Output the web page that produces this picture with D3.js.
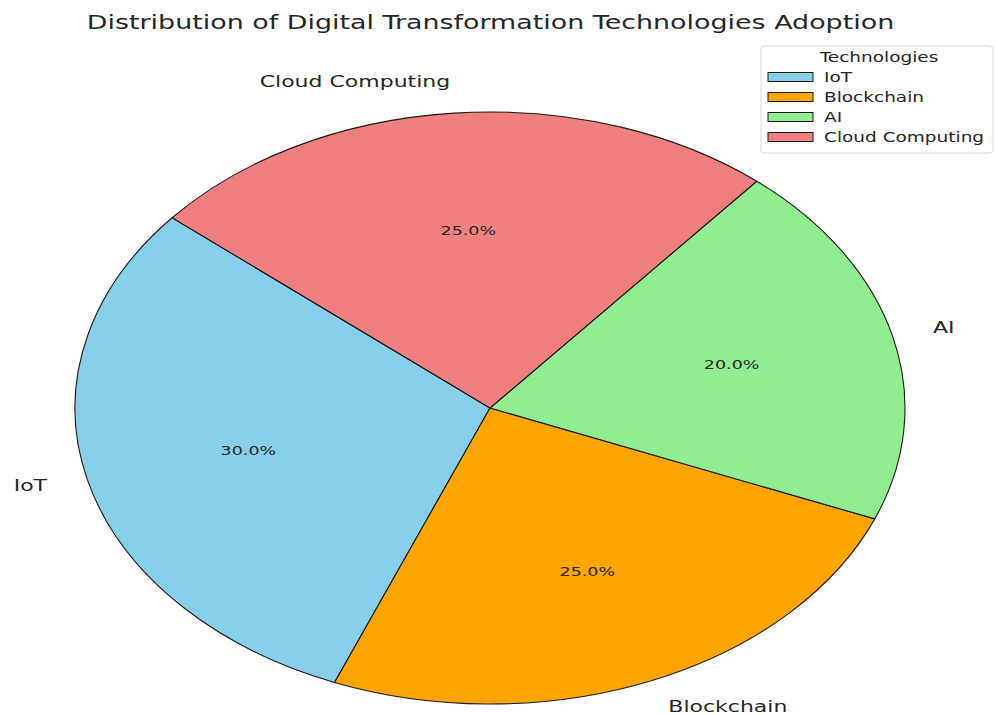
<!DOCTYPE html>
<html>
<head>
<meta charset="utf-8">
<script src="https://cdn.jsdelivr.net/npm/d3@7"></script>
<style>
  html, body { margin: 0; padding: 0; background: #fff; }
  svg { display: block; font-family: "DejaVu Sans", sans-serif; }
</style>
</head>
<body>
<svg id="chart" width="998" height="715"></svg>
<script>
const categories = ["IoT", "Blockchain", "AI", "Cloud Computing"];
const values = [30, 25, 20, 25];
const colors = ["#87CEEB", "#FFA500", "#90EE90", "#F08080"];
const titleText = "Distribution of Digital Transformation Technologies Adoption";
const legendTitle = "Technologies";

const W = 998, H = 715;
const cx = 490, cy = 408, rx = 415, ry = 296;
const k = ry / rx; // vertical squash of the picture
const svg = d3.select("#chart");

const data = categories.map((c, i) => ({ name: c, value: values[i], color: colors[i] }));

// matplotlib startangle=140, counterclockwise -> d3 angles
const start = (90 - 140) * Math.PI / 180;
const pie = d3.pie().value(d => d.value).sort(null)
  .startAngle(start).endAngle(start - 2 * Math.PI);
const arcs = pie(data);
const arc = d3.arc().innerRadius(0).outerRadius(rx);

const g = svg.append("g").attr("transform", `translate(${cx},${cy}) scale(1,${k})`);
g.selectAll("path").data(arcs).join("path")
  .attr("d", arc)
  .attr("fill", d => d.data.color)
  .attr("stroke", "#1a1a1a")
  .attr("stroke-width", 1.1)
  .attr("vector-effect", "non-scaling-stroke");

function squashText(x, y, txt, size, anchor, fill) {
  return svg.append("text")
    .attr("transform", `translate(${x},${y}) scale(1,${k})`)
    .attr("text-anchor", anchor)
    .attr("dominant-baseline", "central")
    .style("font-size", size + "px")
    .attr("fill", fill || "#262626")
    .text(txt);
}

// labels and percentages
arcs.forEach(d => {
  const mid = (d.startAngle + d.endAngle) / 2;
  const sx = Math.sin(mid), sy = -Math.cos(mid);
  const lx = cx + 1.1 * rx * sx, ly = cy + 1.1 * ry * sy - 1.5;
  squashText(lx, ly, d.data.name, 22, sx < 0 ? "end" : "start");
  const px = cx + 0.6 * rx * sx, py = cy + 0.6 * ry * sy;
  const pct = (d.data.value / d3.sum(values) * 100).toFixed(1) + "%";
  squashText(px, py, pct, 17.5, "middle");
});

// title
squashText(490.5, 22, titleText, 26.9, "middle", "#262626");

// legend
const lg = { x: 761, y: 46, w: 232, h: 107 };
svg.append("rect")
  .attr("x", lg.x).attr("y", lg.y).attr("width", lg.w).attr("height", lg.h)
  .attr("rx", 4).attr("ry", 3)
  .attr("fill", "#fff").attr("fill-opacity", 0.8)
  .attr("stroke", "#d6d6d6").attr("stroke-width", 1);
squashText(lg.x + lg.w / 2 + 2, 57, legendTitle, 18.5, "middle");
const rowY = d3.scalePoint().domain(categories).range([77, 137]);
categories.forEach((c, i) => {
  const y = rowY(c);
  svg.append("rect")
    .attr("x", 768).attr("y", y - 4.5).attr("width", 45).attr("height", 9)
    .attr("fill", colors[i]).attr("stroke", "#1a1a1a").attr("stroke-width", 1);
  squashText(824, y, c, 18.5, "start");
});
</script>
</body>
</html>
